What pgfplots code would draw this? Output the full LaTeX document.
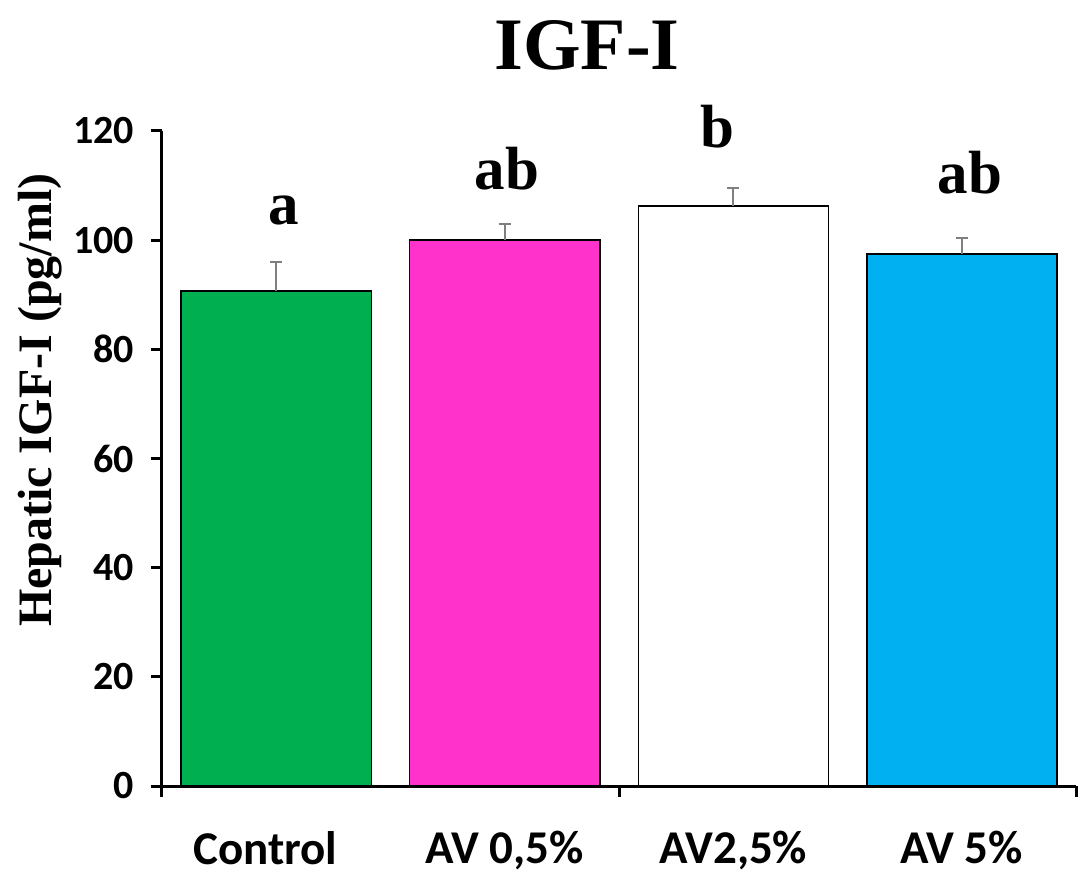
\documentclass[border=0pt]{standalone}
\usepackage{fontspec}
\setmainfont{Liberation Serif}
\newfontfamily\carlito{Carlito}
\usepackage{pgfplots}
\pgfplotsset{compat=1.18}
\definecolor{cgreen}{HTML}{00B050}
\definecolor{cmag}{HTML}{FF33CC}
\definecolor{cblue}{HTML}{00B0F0}
\definecolor{errgray}{HTML}{7F7F7F}
\begin{document}
\begin{tikzpicture}
\begin{axis}[
  at={(0,0)}, anchor=south west,
  scale only axis, width=457pt, height=327.5pt,
  xmin=-0.5, xmax=3.5, ymin=0, ymax=120,
  axis lines=left, axis line style={-, line width=1.5pt},
  ybar, bar width=95pt, bar shift=0pt,
  xtick={-0.5,1.5,3.5}, xticklabels={},
  extra x ticks={0,1,2,3},
  extra x tick labels={Control\hspace*{11pt}, AV 0{,}5\%, AV2{,}5\%, AV 5\%},
  extra x tick style={major tick length=0pt, tick style={draw=none},
    tick label style={font=\carlito\bfseries\fontsize{23.5}{26}\selectfont, yshift=-19pt}},
  ytick={0,20,...,120},
  y tick label style={font=\carlito\bfseries\fontsize{20}{23}\selectfont, xshift=-5pt},
  /pgf/number format/assume math mode=true,
  tick align=outside,
  major tick length=5.5pt,
  tick style={line width=1.5pt, black},
  ylabel={\bfseries Hepatic IGF-I (pg/ml)},
  ylabel style={font=\fontsize{24}{28}\selectfont, at={(axis description cs:-0.1335,0.589)}, anchor=center},
  clip=false,
  error bars/y dir=plus, error bars/y explicit,
  error bars/error mark options={rotate=90, mark size=3pt, errgray, line width=1pt},
  error bars/error bar style={errgray, line width=1pt},
]
\addplot[fill=cgreen, draw=black, line width=0.75pt] coordinates {(0,90.7) +- (0,5.3)};
\addplot[fill=cmag, draw=black, line width=0.75pt] coordinates {(1,100.0) +- (0,3.0)};
\addplot[fill=white, draw=black, line width=0.75pt] coordinates {(2,106.3) +- (0,3.3)};
\addplot[fill=cblue, draw=black, line width=0.75pt] coordinates {(3,97.5) +- (0,2.9)};
\node[font=\bfseries\fontsize{30.5}{34}\selectfont, anchor=base] at (axis cs:0.031,102.8) {a};
\node[font=\bfseries\fontsize{30.5}{34}\selectfont, anchor=base] at (axis cs:1.01,109.2) {ab};
\node[font=\bfseries\fontsize{30.5}{34}\selectfont, anchor=base] at (axis cs:1.929,116.9) {b};
\node[font=\bfseries\fontsize{30.5}{34}\selectfont, anchor=base] at (axis cs:3.036,108.6) {ab};
\node[font=\bfseries\fontsize{37}{42}\selectfont, anchor=center] at (axis description cs:0.465,1.131) {IGF-I};
\end{axis}
\pgfresetboundingbox
\path[use as bounding box] (-81pt,-45.5pt) rectangle (458.5pt,393pt);
\end{tikzpicture}
\end{document}
